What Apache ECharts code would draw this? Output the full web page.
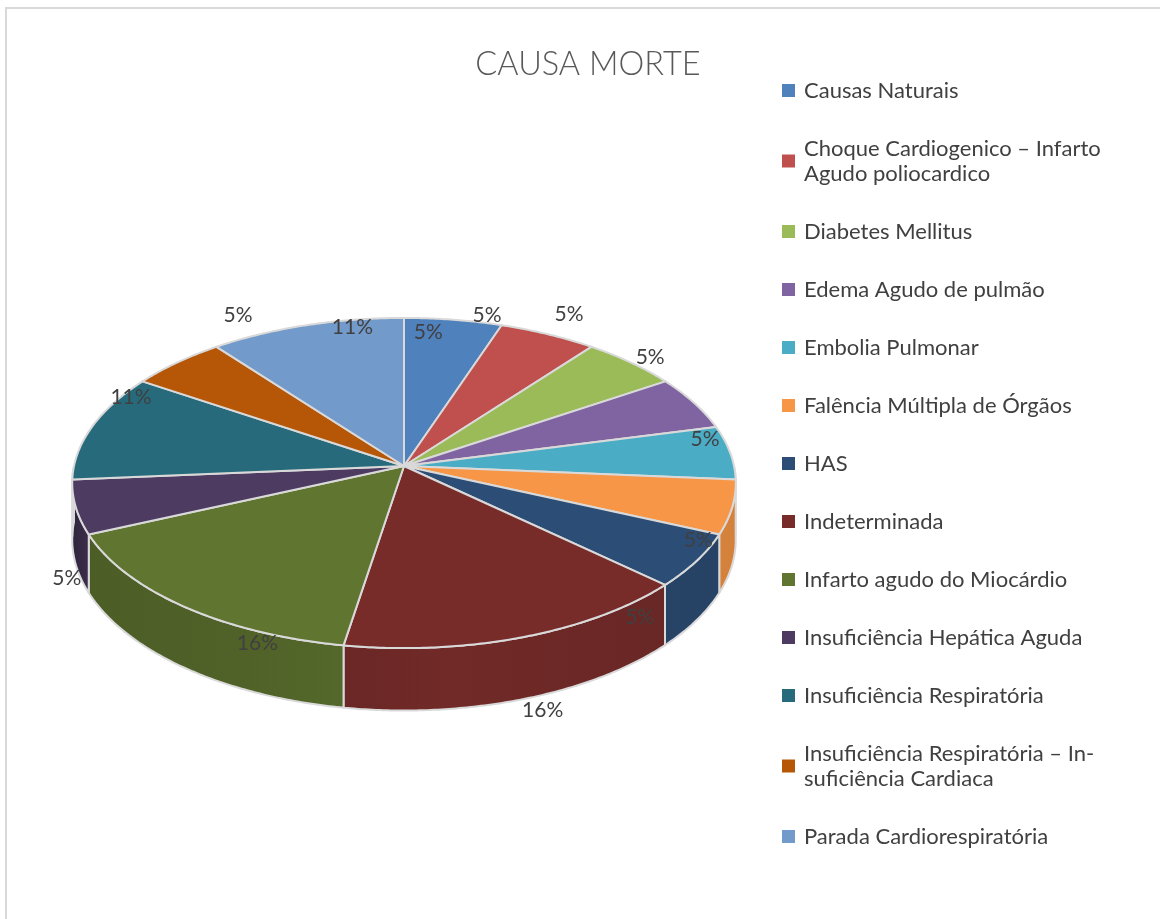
<!DOCTYPE html>
<html>
<head>
<meta charset="utf-8">
<title>CAUSA MORTE</title>
<script src="https://cdn.jsdelivr.net/npm/echarts@6/dist/echarts.min.js"></script>
<style>
  html, body { margin: 0; padding: 0; background: #fff; }
  #chart { width: 1160px; height: 919px; }
</style>
</head>
<body>
<div id="chart"></div>
<script>
const categories = [
  "Causas Naturais",
  "Choque Cardiogenico – Infarto Agudo poliocardico",
  "Diabetes Mellitus",
  "Edema Agudo de pulmão",
  "Embolia Pulmonar",
  "Falência Múltipla de Órgãos",
  "HAS",
  "Indeterminada",
  "Infarto agudo do Miocárdio",
  "Insuficiência Hepática Aguda",
  "Insuficiência Respiratória",
  "Insuficiência Respiratória – Insuficiência Cardiaca",
  "Parada Cardiorespiratória"
];
const counts = [1, 1, 1, 1, 1, 1, 1, 3, 3, 1, 2, 1, 2];

// excel 2010 palette
const colors = ["#4f81bd", "#c0504d", "#9bbb59", "#8064a2", "#4bacc6", "#f79646",
  "#2c4d75", "#772c2a", "#5f7530", "#4d3b62", "#276a7c", "#b65708", "#729aca"];

// wrapped legend text (excel breaks these two)
const legendWrap = {
  "Choque Cardiogenico – Infarto Agudo poliocardico": "Choque Cardiogenico – Infarto\nAgudo poliocardico",
  "Insuficiência Respiratória – Insuficiência Cardiaca": "Insuficiência Respiratória – In-\nsuficiência Cardiaca"
};

// label offsets from the slice's outer edge, px
const labelNudge = [[-25, 12], [-61, -19], [-62, -48], [-44, -46], [-25, -13], [-34, 33],
  [-57, 57], [20, 73], [74, 37], [-9, 71], [39, -30], [61, -47], [46, 2]];

// side wall shading, left to right (x in px, brightness factor)
const wallLight = [[75, 0.64], [92, 0.8], [250, 0.84], [450, 0.95], [650, 0.88], [735, 0.86]];

const total = counts.reduce((a, b) => a + b, 0);
const starts = counts.map((v, i) => counts.slice(0, i).reduce((a, b) => a + b, 0));

// tilted disc, seen in perspective
const pie = { cx: 404, cy: 466, r: 330, sinE: 0.495, cosE: 0.869, dist: 2784, depth: 56 };

function project(theta, h) {
  const X = pie.r * Math.sin(theta);
  const Z = pie.r * Math.cos(theta);
  const f = pie.dist / (pie.dist + Z * pie.cosE);
  return [pie.cx + X * f, pie.cy - Z * pie.sinE * f + h * f];
}

function darken(hex, k) {
  const n = parseInt(hex.slice(1), 16);
  const r = Math.round(((n >> 16) & 255) * k);
  const g = Math.round(((n >> 8) & 255) * k);
  const b = Math.round((n & 255) * k);
  return "rgb(" + r + "," + g + "," + b + ")";
}

function wallFill(color) {
  const x0 = wallLight[0][0];
  const x1 = wallLight[wallLight.length - 1][0];
  return new echarts.graphic.LinearGradient(x0, 0, x1, 0,
    wallLight.map((s) => ({ offset: (s[0] - x0) / (x1 - x0), color: darken(color, s[1]) })), true);
}

function arc(a1, a2, h) {
  const pts = [];
  const n = Math.max(2, Math.ceil((a2 - a1) / 0.01));
  for (let i = 0; i <= n; i++) pts.push(project(a1 + (a2 - a1) * i / n, h));
  return pts;
}

function renderSlice(params, api) {
  const idx = params.seriesIndex;
  const start = api.value(0);
  const val = api.value(1);
  const a1 = start / total * Math.PI * 2;
  const a2 = (start + val) / total * Math.PI * 2;
  const color = colors[idx];
  const children = [];

  // outer wall, only the front half shows
  const s1 = Math.max(a1, Math.PI / 2);
  const s2 = Math.min(a2, Math.PI * 1.5);
  if (s2 > s1) {
    const side = arc(s1, s2, 0).concat(arc(s1, s2, pie.depth).reverse());
    children.push({
      type: "polygon",
      z2: 1,
      shape: { points: side },
      style: { fill: wallFill(color), stroke: "#d9d9d9", lineWidth: 2, lineJoin: "round" }
    });
  }

  const top = [[pie.cx, pie.cy]].concat(arc(a1, a2, 0));
  children.push({
    type: "polygon",
    z2: 10,
    shape: { points: top },
    style: { fill: color, stroke: "#d9d9d9", lineWidth: 2, lineJoin: "round" }
  });

  const mid = (a1 + a2) / 2;
  const p = project(mid, 0);
  children.push({
    type: "text",
    z2: 20,
    style: {
      text: Math.round(val / total * 100) + "%",
      x: p[0] + labelNudge[idx][0],
      y: p[1] + labelNudge[idx][1],
      align: "center",
      verticalAlign: "middle",
      fill: "#404040",
      font: "21px Lato"
    }
  });

  return { type: "group", children: children };
}

const myChart = echarts.init(document.getElementById("chart"));
const option = {
  animation: false,
  color: colors,
  title: {
    text: "CAUSA MORTE",
    left: 583,
    top: 43,
    textAlign: "center",
    textStyle: { fontFamily: "Lato", fontWeight: 300, fontSize: 32.5, color: "#595959" }
  },
  legend: {
    orient: "vertical",
    left: 782,
    top: 78,
    padding: 0,
    itemWidth: 13,
    itemHeight: 13,
    itemGap: 33,
    icon: "rect",
    selectedMode: false,
    data: categories,
    formatter: (name) => legendWrap[name] || name,
    textStyle: { fontFamily: "Lato", fontSize: 22, lineHeight: 25, color: "#404040", padding: [0, 0, 0, 4] }
  },
  graphic: [{
    type: "rect",
    shape: { x: 6, y: 8, width: 1180, height: 940 },
    style: { fill: "none", stroke: "#d9d9d9", lineWidth: 2 },
    silent: true
  }],
  series: categories.map((name, i) => ({
    type: "custom",
    name: name,
    coordinateSystem: "none",
    renderItem: renderSlice,
    data: [[starts[i], counts[i]]]
  }))
};
myChart.setOption(option);
</script>
</body>
</html>
